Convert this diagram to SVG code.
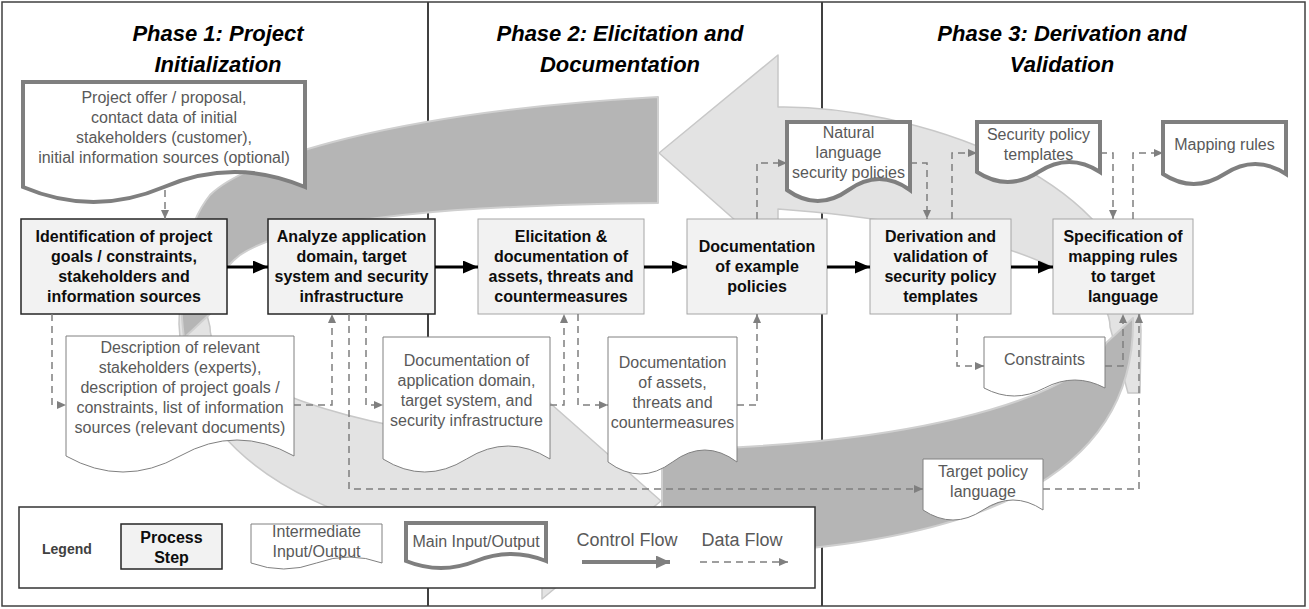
<svg xmlns="http://www.w3.org/2000/svg" width="1309" height="609" viewBox="0 0 1309 609">
<style>
.t{font-family:'Liberation Sans',Arial,sans-serif;text-anchor:middle}
.title{font-size:22px;font-weight:bold;font-style:italic;fill:#000}
.st{font-size:16px;font-weight:bold;fill:#0d0d0d}
.dt{font-size:16px;fill:#595959}
.box{fill:#f2f2f2;stroke:#a6a6a6;stroke-width:1}
.boxd{fill:#f2f2f2;stroke:#262626;stroke-width:1.5}
.doc{fill:#fff;stroke:#808080;stroke-width:1}
.main{fill:#fff;stroke:#7f7f7f;stroke-width:4}
.cf{fill:none;stroke:#000;stroke-width:3;marker-end:url(#ah)}
.df{fill:none;stroke:#7f7f7f;stroke-width:1.5;stroke-dasharray:7 5;marker-end:url(#dh)}
.dark{fill:#b5b5b5;stroke:#cfcfcf;stroke-width:2;stroke-linejoin:round}
.light{fill:#e3e3e3;stroke:#c8c8c8;stroke-width:1.5;stroke-linejoin:round}
.sep{stroke:#000;stroke-width:1.5}
</style>
<defs>
<marker id="ah" markerUnits="userSpaceOnUse" markerWidth="15" markerHeight="13" refX="15" refY="6.5" orient="auto"><path d="M0,0 L15,6.5 L0,13 Z" fill="#000"/></marker>
<marker id="dh" markerUnits="userSpaceOnUse" markerWidth="9" markerHeight="8" refX="9" refY="4" orient="auto"><path d="M0,0 L9,4 L0,8 Z" fill="#7f7f7f"/></marker>
<marker id="gh" markerUnits="userSpaceOnUse" markerWidth="14" markerHeight="13" refX="14" refY="6.5" orient="auto"><path d="M0,0 L14,6.5 L0,13 Z" fill="#7f7f7f"/></marker>
</defs>
<rect x="0" y="0" width="1309" height="609" fill="#fff"/>
<g id="phase-separators">
<line class="sep" x1="428" y1="2" x2="428" y2="606"/>
<line class="sep" x1="822" y1="2" x2="822" y2="606"/>
</g>
<g id="cycle-arrows">
<path class="light" d="M1110,327 A450,122 0 0 0 778,209 L778,258 L659,153 L778,55 L778,107 C900,105 1137,170 1141,330 L1140,393 L1128,393 Z"/>
<path class="dark" d="M662,449 A450,122 0 0 0 1106,343 L1133,318 C1136,470 990,555 662,555 Z"/>
<path class="light" d="M210,327 A450,122 0 0 0 542,445 L542,396 L661,501 L542,599 L542,547 C410,549 185,495 179,324 L181,262 L194,262 Z"/>
<path class="dark" d="M658,97 L658,203 C480,205 300,215 240,255 C220,270 212,292 212,312 L184,338 C176,275 186,225 210,195 C245,160 390,112 658,97 Z"/>
</g>
<rect x="2" y="2" width="1303" height="604" fill="none" stroke="#404040" stroke-width="1.5"/>
<g id="titles">
<text class="t title" x="218" y="41">Phase 1: Project</text>
<text class="t title" x="218" y="72">Initialization</text>
<text class="t title" x="620" y="41">Phase 2: Elicitation and</text>
<text class="t title" x="620" y="72">Documentation</text>
<text class="t title" x="1062" y="41">Phase 3: Derivation and</text>
<text class="t title" x="1062" y="72">Validation</text>
</g>
<g id="legend">
<rect x="19" y="507" width="796" height="81" fill="#fff" stroke="#333" stroke-width="1.5"/>
<text x="42" y="554" font-family="'Liberation Sans',Arial,sans-serif" font-size="14" font-weight="bold" fill="#404040">Legend</text>
<rect class="boxd" x="121" y="524" width="101" height="45"/>
<text class="t st" x="171.5" y="543">Process</text>
<text class="t st" x="171.5" y="563">Step</text>
<path class="doc" d="M251,524 H382 V563 Q349.25,551 316.5,563 T251,563 Z"/>
<text class="t dt" x="316.5" y="537">Intermediate</text>
<text class="t dt" x="316.5" y="557">Input/Output</text>
<path class="main" d="M406,523 H546 V561 Q511,547 476,561 T406,561 Z"/>
<text class="t dt" x="476" y="547">Main Input/Output</text>
<text class="t dt" x="627" y="546" style="font-size:18px">Control Flow</text>
<line x1="582" y1="562" x2="670" y2="562" stroke="#7f7f7f" stroke-width="4" marker-end="url(#gh)"/>
<text class="t dt" x="742" y="546" style="font-size:18px">Data Flow</text>
<line x1="700" y1="562" x2="788" y2="562" stroke="#7f7f7f" stroke-width="1.5" stroke-dasharray="7 5" marker-end="url(#dh)"/>
</g>
<g id="doc-proposal">
<path class="main" d="M23,82 H305 V187 Q234.5,157 164,187 T23,187 Z"/>
<text class="t dt" x="164" y="103">Project offer / proposal,</text>
<text class="t dt" x="164" y="123">contact data of initial</text>
<text class="t dt" x="164" y="143">stakeholders (customer),</text>
<text class="t dt" x="164" y="163">initial information sources (optional)</text>
</g>
<g id="doc-natural-language">
<path class="main" d="M787,122 H910 V190 Q879.25,168 848.5,190 T787,190 Z"/>
<text class="t dt" x="848.5" y="138">Natural</text>
<text class="t dt" x="848.5" y="158">language</text>
<text class="t dt" x="848.5" y="178">security policies</text>
</g>
<g id="doc-security-templates">
<path class="main" d="M977,122 H1100 V172 Q1069.25,152 1038.5,172 T977,172 Z"/>
<text class="t dt" x="1038.5" y="140">Security policy</text>
<text class="t dt" x="1038.5" y="160">templates</text>
</g>
<g id="doc-mapping-rules">
<path class="main" d="M1163,122 H1286 V174 Q1255.25,154 1224.5,174 T1163,174 Z"/>
<text class="t dt" x="1224.5" y="150">Mapping rules</text>
</g>
<g id="doc-stakeholders">
<path class="doc" d="M66,336 H294 V456 Q237,424 180,456 T66,456 Z"/>
<text class="t dt" x="180" y="353">Description of relevant</text>
<text class="t dt" x="180" y="373">stakeholders (experts),</text>
<text class="t dt" x="180" y="393">description of project goals /</text>
<text class="t dt" x="180" y="413">constraints, list of information</text>
<text class="t dt" x="180" y="433">sources (relevant documents)</text>
</g>
<g id="doc-application-domain">
<path class="doc" d="M383,337 H550 V459 Q508.25,433 466.5,459 T383,459 Z"/>
<text class="t dt" x="466.5" y="366">Documentation of</text>
<text class="t dt" x="466.5" y="386">application domain,</text>
<text class="t dt" x="466.5" y="406">target system, and</text>
<text class="t dt" x="466.5" y="426">security infrastructure</text>
</g>
<g id="doc-assets">
<path class="doc" d="M608,337 H737 V462 Q704.75,438 672.5,462 T608,462 Z"/>
<text class="t dt" x="672.5" y="368">Documentation</text>
<text class="t dt" x="672.5" y="388">of assets,</text>
<text class="t dt" x="672.5" y="408">threats and</text>
<text class="t dt" x="672.5" y="428">countermeasures</text>
</g>
<g id="doc-constraints">
<path class="doc" d="M984,337 H1105 V388 Q1074.75,372 1044.5,388 T984,388 Z"/>
<text class="t dt" x="1044.5" y="365">Constraints</text>
</g>
<g id="doc-target-language">
<path class="doc" d="M923,459 H1043 V510 Q1013,490 983,510 T923,510 Z"/>
<text class="t dt" x="983" y="477">Target policy</text>
<text class="t dt" x="983" y="497">language</text>
</g>
<g id="step-identification">
<rect class="boxd" x="21" y="219" width="206" height="95"/>
<text class="t st" x="124" y="242">Identification of project</text>
<text class="t st" x="124" y="262">goals / constraints,</text>
<text class="t st" x="124" y="282">stakeholders and</text>
<text class="t st" x="124" y="302">information sources</text>
</g>
<g id="step-analyze">
<rect class="boxd" x="268" y="219" width="167" height="95"/>
<text class="t st" x="351.5" y="242">Analyze application</text>
<text class="t st" x="351.5" y="262">domain, target</text>
<text class="t st" x="351.5" y="282">system and security</text>
<text class="t st" x="351.5" y="302">infrastructure</text>
</g>
<g id="step-elicitation">
<rect class="box" x="478" y="219" width="166" height="95"/>
<text class="t st" x="561" y="242">Elicitation &amp;</text>
<text class="t st" x="561" y="262">documentation of</text>
<text class="t st" x="561" y="282">assets, threats and</text>
<text class="t st" x="561" y="302">countermeasures</text>
</g>
<g id="step-example-policies">
<rect class="box" x="687" y="219" width="140" height="95"/>
<text class="t st" x="757" y="252">Documentation</text>
<text class="t st" x="757" y="272">of example</text>
<text class="t st" x="757" y="292">policies</text>
</g>
<g id="step-derivation">
<rect class="box" x="870" y="219" width="141" height="95"/>
<text class="t st" x="940.5" y="242">Derivation and</text>
<text class="t st" x="940.5" y="262">validation of</text>
<text class="t st" x="940.5" y="282">security policy</text>
<text class="t st" x="940.5" y="302">templates</text>
</g>
<g id="step-mapping">
<rect class="box" x="1053" y="219" width="140" height="95"/>
<text class="t st" x="1123" y="242">Specification of</text>
<text class="t st" x="1123" y="262">mapping rules</text>
<text class="t st" x="1123" y="282">to target</text>
<text class="t st" x="1123" y="302">language</text>
</g>
<g id="connectors">
<path class="cf" d="M227,267 H268"/>
<path class="cf" d="M435,267 H478"/>
<path class="cf" d="M644,267 H687"/>
<path class="cf" d="M827,267 H870"/>
<path class="cf" d="M1011,267 H1053"/>
<path class="df" d="M165,190 V219"/>
<path class="df" d="M52,314 V405 H66"/>
<path class="df" d="M294,405 H332 V314"/>
<path class="df" d="M366,314 V405 H383"/>
<path class="df" d="M349,314 V489 H923"/>
<path class="df" d="M550,405 H564 V314"/>
<path class="df" d="M578,314 V405 H608"/>
<path class="df" d="M737,405 H757 V314"/>
<path class="df" d="M757,219 V163 H787"/>
<path class="df" d="M910,163 H927 V219"/>
<path class="df" d="M952,219 V153 H977"/>
<path class="df" d="M1100,153 H1113 V219"/>
<path class="df" d="M1133,219 V153 H1163"/>
<path class="df" d="M957,314 V366 H984"/>
<path class="df" d="M1105,366 H1123 V314"/>
<path class="df" d="M1043,489 H1139 V314"/>
</g>
</svg>
